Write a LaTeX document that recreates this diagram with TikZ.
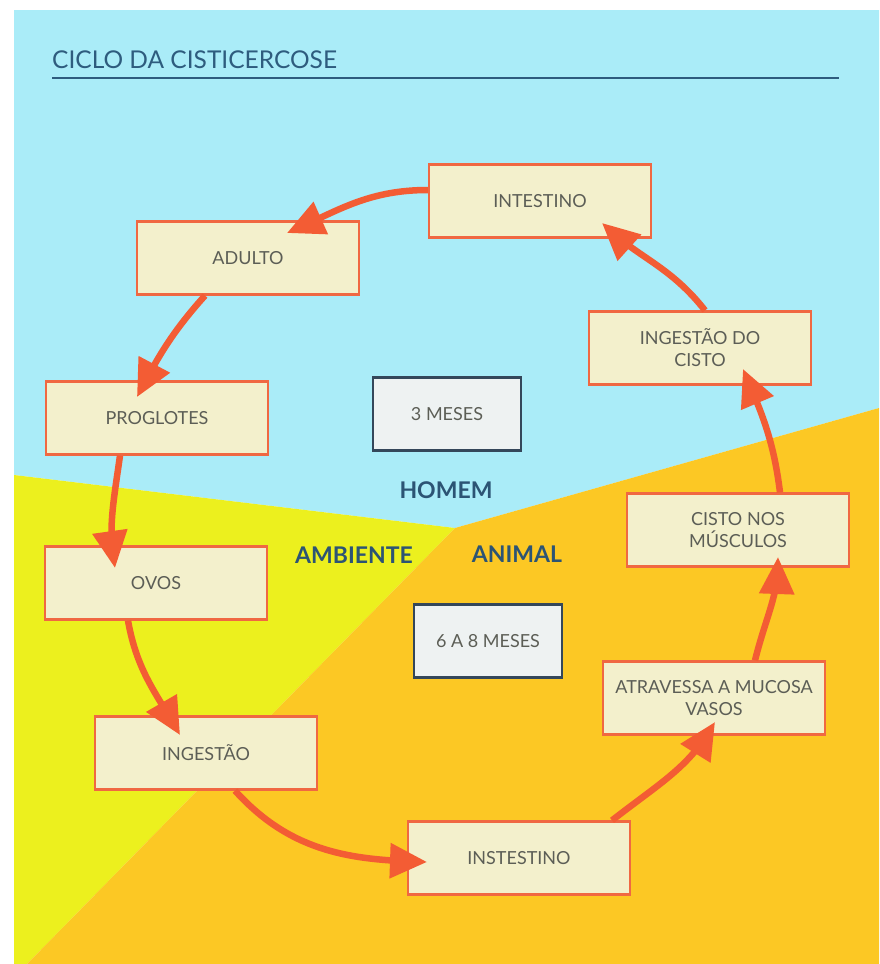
\documentclass[tikz,border=0pt]{standalone}
\usepackage{fontspec}
\setmainfont{Lato}
\usetikzlibrary{arrows.meta,decorations.markings}
\definecolor{bgblue}{RGB}{170,236,248}
\definecolor{bgyellow}{RGB}{236,240,30}
\definecolor{bgorange}{RGB}{252,200,36}
\definecolor{boxfill}{RGB}{243,240,204}
\definecolor{boxline}{RGB}{240,104,66}
\definecolor{arrcol}{RGB}{243,92,52}
\definecolor{txtgray}{RGB}{92,94,86}
\definecolor{navy}{RGB}{44,84,116}
\definecolor{titleblue}{RGB}{46,92,126}
\definecolor{mfill}{RGB}{238,242,242}
\definecolor{mline}{RGB}{52,71,90}
\tikzset{
  stagebox/.style={draw=boxline, line width=2.2pt, fill=boxfill, minimum width=222pt, minimum height=73pt, inner sep=0pt, align=center, text=txtgray, font=\fontsize{18}{22}\selectfont},
  timebox/.style={draw=mline, line width=2.2pt, fill=mfill, minimum width=148pt, minimum height=73pt, inner sep=0pt, align=center, text=txtgray, font=\fontsize{18}{22}\selectfont},
  zonelabel/.style={text=navy, font=\fontsize{23}{26}\selectfont\bfseries, inner sep=0pt},
  arr/.style={draw=arrcol, line width=6.5pt, shorten >=14pt,
    postaction={decorate, decoration={markings, mark=at position 1 with {\arrow{Triangle[length=37pt,width=34pt]}}}}}
}
\begin{document}
\begin{tikzpicture}[x=1pt,y=-1pt]
\useasboundingbox (0,0) rectangle (879,964);
\fill[white] (0,0) rectangle (879,964);
% background regions
\fill[bgblue] (14,10) -- (879,10) -- (879,408) -- (455,528) -- (14,475) -- cycle;
\fill[bgyellow] (14,475) -- (455,528) -- (27,964) -- (14,964) -- cycle;
\fill[bgorange] (455,528) -- (879,408) -- (879,964) -- (27,964) -- cycle;
% title
\node[anchor=base west, text=titleblue, font=\fontsize{24.5}{28}\selectfont, inner sep=0pt] (title) at (52,68) {CICLO DA CISTICERCOSE};
\draw[titleblue, line width=2.8pt] (52,78) -- (839,78);
% stage boxes
\node[stagebox] (intestino) at (540,201) {INTESTINO};
\node[stagebox] (adulto) at (248,258) {ADULTO};
\node[stagebox] (proglotes) at (157,418) {PROGLOTES};
\node[stagebox] (ovos) at (156,583) {OVOS};
\node[stagebox] (ingestao) at (206,753) {INGESTÃO};
\node[stagebox] (instestino) at (519,858) {INSTESTINO};
\node[stagebox] (atravessa) at (714,698) {ATRAVESSA A MUCOSA\\VASOS};
\node[stagebox] (cisto) at (738,530) {CISTO NOS\\MÚSCULOS};
\node[stagebox] (ingcisto) at (700,348) {INGESTÃO DO\\CISTO};
% time boxes
\node[timebox] (tres) at (447,414) {3 MESES};
\node[timebox] (seis) at (488,641) {6 A 8 MESES};
% zone labels
\node[zonelabel] (homem) at (446,490) {HOMEM};
\node[zonelabel] (ambiente) at (354,555) {AMBIENTE};
\node[zonelabel] (animal) at (517,554) {ANIMAL};
% arrows
\draw[arr] ([yshift=11pt]intestino.west) to[out=180,in=24] ([xshift=39pt,yshift=25pt]adulto.center);
\draw[arr] ([xshift=-43pt]adulto.south) to[out=228,in=62] ([xshift=-20pt,yshift=21pt]proglotes.center);
\draw[arr] ([xshift=-37pt]proglotes.south) to[out=262,in=98] ([xshift=-41pt,yshift=15pt]ovos.center);
\draw[arr] ([xshift=-28pt]ovos.south) to[out=280,in=120] ([xshift=-26pt,yshift=18pt]ingestao.center);
\draw[arr] ([xshift=29pt]ingestao.south) to[out=-48,in=178] ([xshift=-92pt,yshift=-4pt]instestino.center);
\draw[arr] ([xshift=93pt]instestino.north) to[out=38,in=238] ([xshift=1pt,yshift=-24pt]atravessa.center);
\draw[arr] ([xshift=41pt]atravessa.north) to[out=76,in=268] ([xshift=40pt,yshift=-27pt]cisto.center);
\draw[arr] ([xshift=42pt]cisto.north) to[out=97,in=293] ([xshift=43pt,yshift=-21pt]ingcisto.center);
\draw[arr] ([xshift=5pt]ingcisto.north) to[out=128,in=318] ([xshift=62pt,yshift=-22pt]intestino.center);
\end{tikzpicture}
\end{document}
